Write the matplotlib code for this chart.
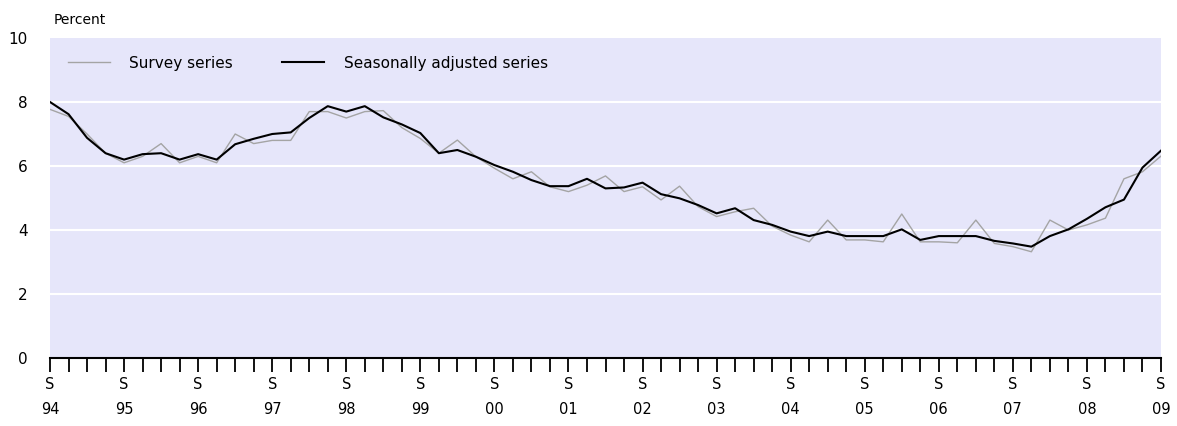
import matplotlib.pyplot as plt
from matplotlib.ticker import MultipleLocator

# quarterly points, Sep 1994 .. Sep 2009
quarters = list(range(61))
years = ['94', '95', '96', '97', '98', '99', '00', '01',
         '02', '03', '04', '05', '06', '07', '08', '09']

survey = [7.77, 7.55, 7.0, 6.4, 6.1, 6.3, 6.7, 6.1, 6.3, 6.1,
          7.0, 6.7, 6.8, 6.8, 7.7, 7.7, 7.5, 7.7, 7.73, 7.2,
          6.86, 6.4, 6.81, 6.29, 5.93, 5.6, 5.82, 5.35, 5.2, 5.4,
          5.69, 5.2, 5.35, 4.94, 5.37, 4.73, 4.42, 4.57, 4.68, 4.12,
          3.84, 3.63, 4.31, 3.69, 3.69, 3.63, 4.5, 3.63, 3.63, 3.6,
          4.31, 3.58, 3.48, 3.32, 4.31, 4.0, 4.16, 4.37, 5.6, 5.82,
          6.31]

seas_adj = [8.0, 7.62, 6.88, 6.4, 6.2, 6.37, 6.4, 6.2, 6.37, 6.2,
            6.68, 6.85, 7.0, 7.05, 7.5, 7.87, 7.7, 7.87, 7.52, 7.3,
            7.03, 6.4, 6.5, 6.29, 6.03, 5.82, 5.56, 5.37, 5.37, 5.6,
            5.3, 5.33, 5.48, 5.12, 4.99, 4.78, 4.52, 4.68, 4.31, 4.16,
            3.95, 3.81, 3.95, 3.81, 3.81, 3.81, 4.02, 3.69, 3.81, 3.81,
            3.81, 3.66, 3.58, 3.48, 3.81, 4.02, 4.35, 4.71, 4.95, 5.95,
            6.48]

plt.rcParams['font.family'] = 'DejaVu Sans'

fig = plt.figure(figsize=(11.77, 4.26), dpi=100)
ax = fig.add_axes([50 / 1177, 68 / 426, 1111 / 1177, 320 / 426])
ax.set_facecolor('#e6e6fa')

for y in [2, 4, 6, 8]:
    ax.axhline(y, color='white', lw=1.5, zorder=1)

ax.plot(quarters, survey, color='#a4a4a4', lw=1, label='Survey series', zorder=3)
ax.plot(quarters, seas_adj, color='black', lw=1.5, label='Seasonally adjusted series', zorder=4)

ax.set_xlim(0, 60)
ax.set_ylim(0, 10)

for s in ['top', 'right', 'left']:
    ax.spines[s].set_visible(False)
ax.spines['bottom'].set_linewidth(1.5)

ax.set_yticks([0, 2, 4, 6, 8, 10])
ax.set_yticklabels(['0', '2', '4', '6', '8', '10'], fontsize=11)
ax.tick_params(axis='y', length=0, pad=16)

ax.set_xticks(range(0, 61, 4))
ax.set_xticklabels(['S\n' + y for y in years], fontsize=10.5, linespacing=1.8)
ax.xaxis.set_minor_locator(MultipleLocator(1))
ax.tick_params(axis='x', which='both', direction='out', length=10, width=1.3, pad=4)

ax.text(0.003, 1.035, 'Percent', transform=ax.transAxes, fontsize=10, ha='left', va='bottom')

ax.legend(loc='upper left', ncol=2, frameon=False, fontsize=11,
          handlelength=2.75, handletextpad=1.3, columnspacing=3.2,
          bbox_to_anchor=(0.0, 1.0), borderaxespad=0.75)

plt.savefig('out.png', dpi=100)
plt.close()
